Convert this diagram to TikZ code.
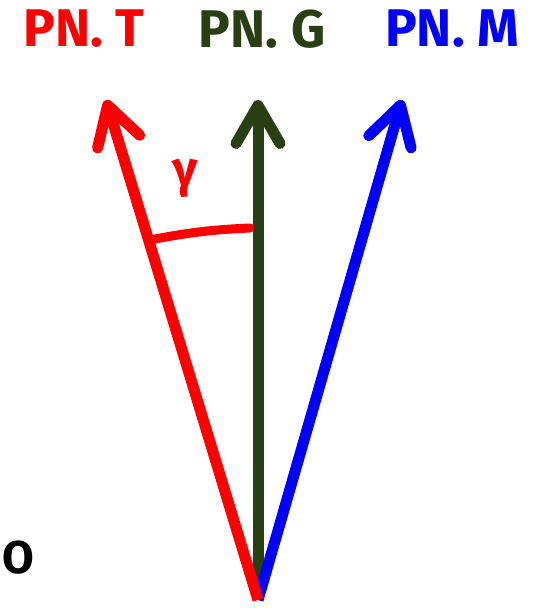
\documentclass[tikz,border=0pt]{standalone}
\usepackage{fontspec}
\setmainfont{Fira Sans}
\usetikzlibrary{arrows.meta}
\definecolor{rojo}{RGB}{255,0,0}
\definecolor{verde}{RGB}{40,63,20}
\definecolor{azul}{RGB}{0,0,255}
\tikzset{
  vec/.style={line width=11pt, -{Straight Barb[length=38pt, width=44pt, round]}},
  etiq/.style={font=\fontsize{53}{53}\selectfont\bfseries, inner sep=0pt}
}
\begin{document}
\begin{tikzpicture}[x=1pt, y=-1pt]
\useasboundingbox (0,0) rectangle (533,608);

\coordinate (O) at (258,600);
\coordinate (T) at (106,100);
\coordinate (G) at (258,100);
\coordinate (M) at (402,100);

% Vectores
\draw[vec, verde] (258,590) -- (G);
\draw[vec, azul] (O) -- (M);
\draw[vec, rojo] (O) -- (T);

% Etiquetas
\node[etiq, text=rojo] (lT) at (84,29) {PN. T};
\node[etiq, text=verde] (lG) at (262,29) {PN. G};
\node[etiq, text=azul] (lM) at (452,29) {PN. M};
\node[font=\fontsize{46}{46}\selectfont\bfseries, inner sep=0pt] (lO) at (18,558) {O};

% Angulo
\coordinate (a1) at (155,239);
\coordinate (a2) at (250,228);
\draw[rojo, line width=9pt, line cap=round] (a1) to[bend left=4] (a2);
\node[text=rojo, font=\fontsize{50}{50}\selectfont\bfseries, inner sep=0pt] (g) at (185,178) {γ};
\end{tikzpicture}
\end{document}
